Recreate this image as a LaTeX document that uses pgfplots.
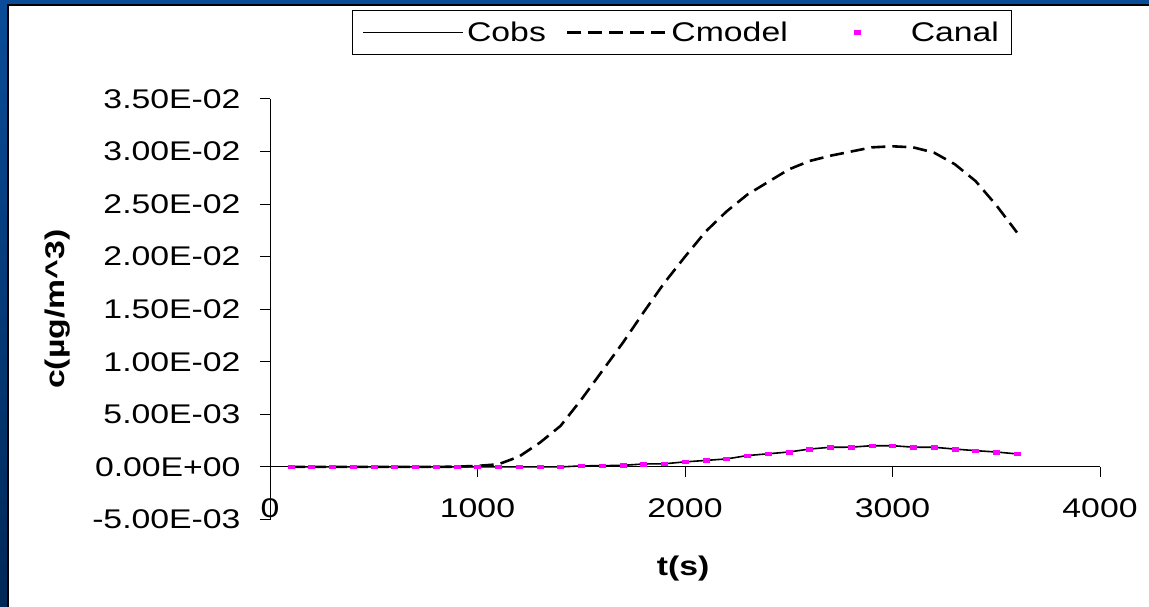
\documentclass[border=0pt]{standalone}
\usepackage{fontspec}
\setmainfont{Liberation Sans}[FakeStretch=1.25]
\usepackage{pgfplots}
\pgfplotsset{compat=1.18}
\definecolor{slideblue}{RGB}{10,76,152}
\definecolor{slidenavy}{RGB}{0,40,88}
\definecolor{canalpink}{RGB}{255,0,255}
% wide legend samples
\pgfplotsset{
  long line legend/.style={legend image code/.code={\draw[##1] (0bp,0bp) -- (100bp,0bp);}},
  long mark legend/.style={legend image code/.code={%
    \path[draw=none, fill=none] (0bp,-1bp) rectangle (100bp,1bp);
    \path[##1, draw=none] plot coordinates {(50bp,0bp)};}},
}

\begin{document}
\begin{tikzpicture}[font=\fontsize{27bp}{32bp}\selectfont]
\useasboundingbox (0,0) rectangle (1149bp,607bp);
% slide background and white chart area
\shade[top color=slideblue, bottom color=slidenavy] (0,0) rectangle (1149bp,607bp);
\fill[white] (8bp,0) rectangle (1149bp,602bp);
\draw[black, line width=1.5bp] (8bp,0) -- (8bp,602bp) -- (1149bp,602bp);

\begin{axis}[
  at={(270bp,87.5bp)}, anchor=south west,
  scale only axis, width=830bp, height=420.5bp,
  xmin=0, xmax=4000, ymin=-0.005, ymax=0.035,
  axis x line=middle, axis y line=left,
  axis line style={-, black, line width=1bp},
  hide obscured x ticks=false, hide obscured y ticks=false,
  scaled x ticks=false, scaled y ticks=false,
  xtick={0,1000,2000,3000,4000},
  xticklabels={0,1000,2000,3000,4000},
  ytick={-0.005,0,0.005,0.01,0.015,0.02,0.025,0.03,0.035},
  yticklabels={-5.00E-03,0.00E+00,5.00E-03,1.00E-02,1.50E-02,2.00E-02,2.50E-02,3.00E-02,3.50E-02},
  tick align=outside, major tick length=10bp,
  tick style={black, line width=1bp},
  xticklabel style={anchor=center, yshift=-31bp},
  yticklabel style={anchor=east, xshift=-16bp},
  xlabel={\textbf{t(s)}},
  ylabel={\textbf{c(µg/m\textasciicircum 3)}},
  every axis x label/.style={at={(axis description cs:0.4976,-0.1164)}, anchor=center},
  every axis y label/.style={at={(axis description cs:-0.2554,0.5)}, anchor=center, rotate=90},
  legend columns=3,
  legend cell align=left,
  legend style={at={(axis description cs:0.0988,1.2114)}, anchor=north west,
    draw=black, line width=1bp, inner xsep=10bp, inner ysep=8.5bp,
    nodes={inner sep=3bp},
    /tikz/every even column/.append style={column sep=17bp}},
]
\addplot[black, line width=1.6bp, long line legend]
  table {
t c
100 0
200 0
300 0
400 0
500 0
600 0
700 0
800 0
900 0
1000 0
1100 0
1200 0
1300 0
1400 0
1500 0.00010
1600 0.00012
1700 0.00015
1800 0.00028
1900 0.00030
2000 0.00048
2100 0.00062
2200 0.00076
2300 0.00108
2400 0.00125
2500 0.00142
2600 0.00170
2700 0.00187
2800 0.00188
2900 0.00202
3000 0.00202
3100 0.00188
3200 0.00187
3300 0.00170
3400 0.00155
3500 0.00142
3600 0.00124
};
\addlegendentry{Cobs}

\addplot[black, line width=2.6bp, dash pattern=on 14bp off 7bp, long line legend]
  table {
t c
100 0
200 0
300 0
400 0
500 0
600 0
700 0
800 0
900 0.00003
1000 0.00010
1100 0.00025
1200 0.00098
1300 0.00230
1400 0.00390
1500 0.00640
1600 0.00910
1700 0.01180
1800 0.01470
1900 0.01750
2000 0.02000
2100 0.02240
2200 0.02430
2300 0.02590
2400 0.02710
2500 0.02830
2600 0.02910
2700 0.02960
2800 0.03000
2900 0.03040
3000 0.03050
3100 0.03040
3200 0.02990
3300 0.02880
3400 0.02720
3500 0.02490
3600 0.02230
};
\addlegendentry{Cmodel}

\addplot[only marks, mark=square*, mark size=1.75bp, color=canalpink,
  mark options={xscale=1.7, draw=none, fill=canalpink}, long mark legend]
  table {
t c
100 0
200 0
300 0
400 0
500 0
600 0
700 0
800 0
900 0
1000 0
1100 0
1200 0
1300 0
1400 0
1500 0.00010
1600 0.00012
1700 0.00015
1800 0.00028
1900 0.00030
2000 0.00048
2100 0.00062
2200 0.00076
2300 0.00108
2400 0.00125
2500 0.00142
2600 0.00170
2700 0.00187
2800 0.00188
2900 0.00202
3000 0.00202
3100 0.00188
3200 0.00187
3300 0.00170
3400 0.00155
3500 0.00142
3600 0.00124
};
\addlegendentry{Canal}
\end{axis}
\end{tikzpicture}
\end{document}
